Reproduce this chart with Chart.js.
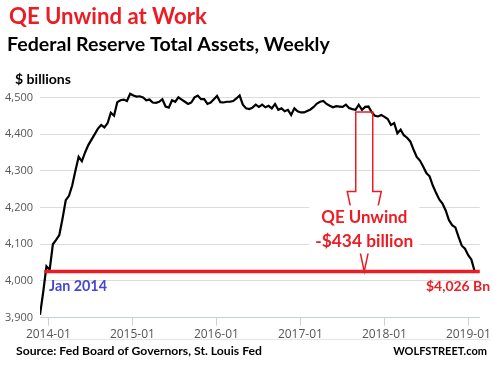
<!DOCTYPE html>
<html>
<head>
<meta charset="utf-8">
<script src="https://cdn.jsdelivr.net/npm/chart.js@4.4.1/dist/chart.umd.min.js"></script>
<style>
  html, body { margin: 0; padding: 0; background: #fff; }
  #wrap { width: 493px; height: 375px; position: relative; }
</style>
</head>
<body>
<div id="wrap"><canvas id="chart" width="493" height="375"></canvas></div>
<script>
// Fed total assets, $ billions, read every other week off the picture
const startYear = 2013.90;
const stepYears = 14 / 365.25;
const assets = [
  3908, 3970, 4040, 4030, 4100, 4112, 4125, 4170, 4220, 4232,
  4260, 4300, 4338, 4326, 4350, 4370, 4385, 4400, 4415, 4425,
  4418, 4430, 4458, 4450, 4487, 4492, 4494, 4490, 4510, 4505,
  4502, 4503, 4500, 4492, 4494, 4486, 4485, 4488, 4495, 4475,
  4472, 4492, 4488, 4500, 4494, 4488, 4482, 4486, 4500, 4505,
  4495, 4495, 4482, 4486, 4495, 4504, 4487, 4486, 4488, 4488,
  4490, 4497, 4505, 4480, 4470, 4468, 4472, 4480, 4474, 4480,
  4473, 4477, 4470, 4482, 4466, 4470, 4462, 4466, 4452, 4470,
  4462, 4459, 4459, 4463, 4467, 4474, 4483, 4488, 4490, 4482,
  4477, 4473, 4476, 4475, 4474, 4480, 4471, 4468, 4466, 4480,
  4466, 4474, 4475, 4460, 4450, 4448, 4452, 4447, 4441, 4425,
  4430, 4402, 4412, 4397, 4390, 4380, 4358, 4338, 4328, 4312,
  4294, 4285, 4260, 4240, 4222, 4211, 4192, 4166, 4152, 4146,
  4120, 4096, 4088, 4070, 4058, 4026
];
const xTicks = [2014, 2015, 2016, 2017, 2018, 2019];
const yTicks = [3900, 4000, 4100, 4200, 4300, 4400, 4500];
const unwindYear = 2017.76;
const unwindAmount = 434;
const endValue = assets[assets.length - 1];

const RED = "#ed1c24";
const points = assets.map((v, i) => ({ x: startYear + i * stepYears, y: v }));

// draw bold text, sized so it fills a given width
function fitText(ctx, s, x, y, width, color, align) {
  ctx.save();
  ctx.font = "bold 20px Lato";
  const size = 20 * width / ctx.measureText(s).width;
  ctx.font = "bold " + size + "px Lato";
  ctx.fillStyle = color;
  ctx.textAlign = align || "left";
  ctx.textBaseline = "alphabetic";
  ctx.fillText(s, x, y);
  ctx.restore();
}

const extras = {
  id: "extras",
  afterDatasetsDraw(chart) {
    const ctx = chart.ctx;
    const xs = chart.scales.x, ys = chart.scales.y;
    const area = chart.chartArea;

    // red level line
    const yEnd = ys.getPixelForValue(endValue);
    ctx.save();
    ctx.strokeStyle = RED;
    ctx.lineWidth = 3.5;
    ctx.beginPath();
    ctx.moveTo(xs.getPixelForValue(2013.95), yEnd);
    ctx.lineTo(area.right, yEnd);
    ctx.stroke();

    // outlined arrow from the plateau down to the line
    const ax = xs.getPixelForValue(unwindYear);
    const yTop = ys.getPixelForValue(endValue + unwindAmount);
    const headBase = yEnd - 80;
    ctx.lineWidth = 1.5;
    ctx.beginPath();
    ctx.moveTo(ax - 8.5, yTop);
    ctx.lineTo(ax + 8.5, yTop);
    ctx.lineTo(ax + 8.5, headBase);
    ctx.lineTo(ax + 17, headBase);
    ctx.lineTo(ax, yEnd);
    ctx.lineTo(ax - 17, headBase);
    ctx.lineTo(ax - 8.5, headBase);
    ctx.closePath();
    ctx.stroke();

    // white box behind the label
    ctx.fillStyle = "#fff";
    ctx.fillRect(ax - 55, headBase + 14, 110, 48);
    ctx.restore();

    fitText(ctx, "QE Unwind", ax, headBase + 32, 86, RED, "center");
    fitText(ctx, "-$" + unwindAmount + " billion", ax, headBase + 56, 98, RED, "center");
    fitText(ctx, "Jan 2014", 49, yEnd + 20, 58, "#4646d2");
    fitText(ctx, "$" + endValue.toLocaleString("en-US") + " Bn", 490, yEnd + 20, 64, RED, "right");
  },
  afterDraw(chart) {
    const ctx = chart.ctx;
    fitText(ctx, "QE Unwind at Work", 9, 24, 198, RED);
    fitText(ctx, "Federal Reserve Total Assets, Weekly", 7, 51, 323, "#000");
    fitText(ctx, "$ billions", 15, 84, 56, "#000");
    fitText(ctx, "Source: Fed Board of Governors, St. Louis Fed", 16, 355, 246, "#000");
    fitText(ctx, "WOLFSTREET.com", 487, 355, 94, "#000", "right");
    ctx.save();
    ctx.strokeStyle = "#e6e6e6";
    ctx.lineWidth = 1;
    ctx.beginPath();
    ctx.moveTo(40, 339.5);
    ctx.lineTo(490, 339.5);
    ctx.stroke();
    ctx.restore();
  }
};

new Chart(document.getElementById("chart").getContext("2d"), {
  type: "line",
  data: {
    datasets: [{
      data: points,
      borderColor: "#000",
      borderWidth: 2.2,
      pointRadius: 0,
      tension: 0
    }]
  },
  options: {
    responsive: false,
    animation: false,
    layout: { padding: { top: 79, right: 3, left: 0, bottom: 0 } },
    plugins: { legend: { display: false }, tooltip: { enabled: false } },
    scales: {
      x: {
        type: "linear",
        min: 2013.90,
        max: 2019.135,
        afterBuildTicks: s => { s.ticks = xTicks.map(v => ({ value: v })); },
        afterFit: s => { s.height = 57.3; },
        grid: { drawOnChartArea: false, tickLength: 8, color: "#c8cfdf" },
        border: { color: "#c8cfdf" },
        ticks: {
          padding: 2,
          maxRotation: 0,
          color: "#555",
          font: { family: "Open Sans", size: 12 },
          callback: v => v + "-01"
        }
      },
      y: {
        min: 3900,
        max: 4550,
        afterBuildTicks: s => { s.ticks = yTicks.map(v => ({ value: v })); },
        afterFit: s => { s.width = 40; },
        grid: { color: "#dcdcdc", drawTicks: false },
        border: { display: false },
        ticks: {
          padding: 7,
          color: "#555",
          font: { family: "Open Sans", size: 11 },
          callback: v => v.toLocaleString("en-US")
        }
      }
    }
  },
  plugins: [extras]
});
</script>
</body>
</html>
